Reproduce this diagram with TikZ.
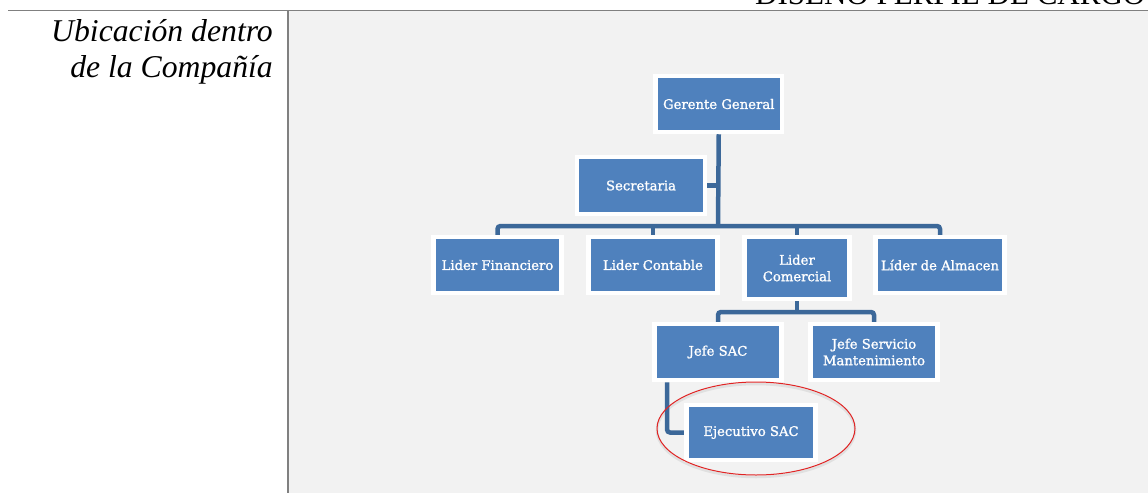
\documentclass[tikz,border=0pt]{standalone}
\usepackage{fontspec}
\setmainfont{Liberation Serif}
\newfontfamily\boxfont[FakeBold=1.2]{DejaVu Serif}
\usetikzlibrary{shapes.geometric}
\definecolor{boxblue}{HTML}{4F81BD}
\definecolor{linkblue}{HTML}{3C6899}
\definecolor{panelgray}{HTML}{F2F2F2}
\definecolor{rulegray}{HTML}{808080}
\definecolor{ringred}{HTML}{E02424}
\pgfdeclarelayer{bg}
\pgfdeclarelayer{edges}
\pgfsetlayers{bg,edges,main}
\begin{document}
\begin{tikzpicture}[x=1pt,y=-1pt,
  orgbox/.style={draw=white, line width=4.5pt, fill=boxblue, text=white,
    font=\boxfont\fontsize{13.2}{16.5}\selectfont, align=center, inner sep=0pt,
    minimum height=56pt},
  link/.style={draw=linkblue, line width=4.5pt, rounded corners=3pt},
  labeltext/.style={inner sep=0pt, font=\itshape\fontsize{31.7}{36}\selectfont},
]
\useasboundingbox (0,0) rectangle (1148,493);
\begin{pgfonlayer}{bg}
  \fill[panelgray] (288,10.5) rectangle (1148,493);
  \draw[rulegray, line width=1.6pt] (8,10.5) -- (1148,10.5);
  \draw[rulegray, line width=1.6pt] (288,10.5) -- (288,493);
\end{pgfonlayer}

\node[inner sep=0pt, anchor=base west, font=\fontsize{31}{36}\selectfont] (title) at (755,4.5) {DISEÑO PERFIL DE CARGO};
\node[labeltext, anchor=base east] (lab1) at (273,41) {Ubicación dentro};
\node[labeltext, anchor=base east] (lab2) at (273,77) {de la Compañía};

\node[orgbox, minimum width=126.5pt] (gg) at (718.75,104) {Gerente General};
\node[orgbox, minimum width=128pt, minimum height=57pt] (sec) at (641,185.5) {Secretaria};
\node[orgbox, minimum width=128pt] (fin) at (497.5,265) {Lider Financiero};
\node[orgbox, minimum width=129pt] (con) at (653,265) {Lider Contable};
\node[orgbox, minimum width=105pt, minimum height=62pt] (com) at (797,268) {Lider\\Comercial};
\node[orgbox, minimum width=129pt] (alm) at (940,265) {Líder de Almacen};
\node[orgbox, minimum width=127pt] (jsac) at (718,352) {Jefe SAC};
\node[orgbox, minimum width=127pt] (jsm) at (874,352) {Jefe Servicio\\Mantenimiento};
\node[orgbox, minimum width=129pt, minimum height=55pt] (eje) at (751,432.5) {Ejecutivo SAC};

\node[draw=ringred, ellipse, line width=1pt, inner sep=0pt,
  minimum width=198pt, minimum height=93pt] (ring) at (756,428.5) {};

\coordinate (b1) at (718,226);
\coordinate (b2) at (797,312);
\begin{pgfonlayer}{edges}
  \draw[black!25, line width=2.5pt, opacity=0.35] (756,430.5) ellipse [x radius=99pt, y radius=46.5pt];
  \draw[link] (gg.south) -- (b1);
  \draw[link] (sec.east) -- (sec.east -| b1);
  \draw[link] (fin.north) |- (b1) -| (alm.north);
  \draw[link] (con.north) -- (con.north |- b1);
  \draw[link] (com.north) -- (com.north |- b1);
  \draw[link] (com.south) -- (b2);
  \draw[link] (jsac.north) |- (b2) -| (jsm.north);
  \draw[link] ([xshift=-51pt]jsac.south) |- (eje.west);
\end{pgfonlayer}
\end{tikzpicture}
\end{document}
